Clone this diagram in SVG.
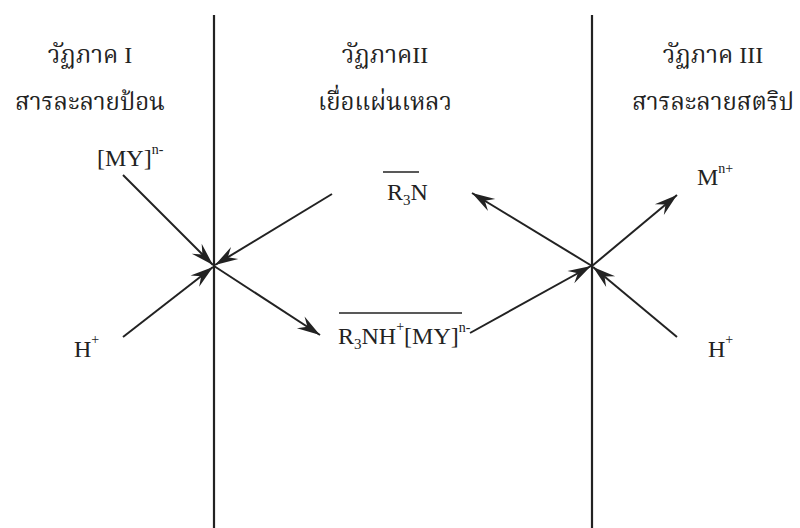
<svg xmlns="http://www.w3.org/2000/svg" width="800" height="528" viewBox="0 0 800 528">
<style>
  .th { font-family: "Liberation Serif", "Noto Serif Thai", "Noto Sans Thai", "Noto Sans", serif; font-size: 24px; fill: #222; text-anchor: middle; }
  .lb { font-family: "Liberation Serif", serif; font-size: 24px; fill: #222; }
  .sup { font-size: 14px; }
  .sub { font-size: 15px; }
  .wall { stroke: #222; stroke-width: 2.2; }
  .arr { stroke: #222; stroke-width: 2; fill: none; marker-end: url(#ah); }
  .bar { stroke: #222; stroke-width: 1.6; }
</style>
<defs>
  <marker id="ah" markerUnits="userSpaceOnUse" viewBox="-24 -9 26 18" refX="0" refY="0" markerWidth="26" markerHeight="18" orient="auto">
    <path d="M0,0 L-23,-7 L-15,0 L-23,7 Z" fill="#222"/>
  </marker>
</defs>
<rect width="800" height="528" fill="#fff"/>
<g id="walls">
  <line class="wall" x1="214" y1="15" x2="214" y2="528"/>
  <line class="wall" x1="592" y1="15" x2="592" y2="528"/>
</g>
<g id="phase1">
  <text class="th" x="90" y="63">วัฏภาค I</text>
  <text class="th" x="90" y="110">สารละลายป้อน</text>
</g>
<g id="phase2">
  <text class="th" x="385" y="63">วัฏภาคII</text>
  <text class="th" x="385" y="110">เยื่อแผ่นเหลว</text>
</g>
<g id="phase3">
  <text class="th" x="713" y="63">วัฏภาค III</text>
  <text class="th" x="713" y="110">สารละลายสตริป</text>
</g>
<g id="MY">
  <text class="lb" x="97" y="166">[MY]<tspan class="sup" dy="-12">n-</tspan></text>
</g>
<g id="H1">
  <text class="lb" x="74" y="357">H<tspan class="sup" dy="-13">+</tspan></text>
</g>
<g id="R3N">
  <line class="bar" x1="383" y1="172" x2="419" y2="172"/>
  <text class="lb" x="387" y="200">R<tspan class="sub" dy="5">3</tspan><tspan dy="-5">N</tspan></text>
</g>
<g id="complex">
  <line class="bar" x1="339" y1="313" x2="462" y2="313"/>
  <text class="lb" x="338" y="344">R<tspan class="sub" dy="5">3</tspan><tspan dy="-5">NH</tspan><tspan class="sup" dy="-13">+</tspan><tspan dy="13">[MY]</tspan><tspan class="sup" dy="-12">n-</tspan></text>
</g>
<g id="M">
  <text class="lb" x="697" y="185">M<tspan class="sup" dy="-12">n+</tspan></text>
</g>
<g id="H3">
  <text class="lb" x="708" y="357">H<tspan class="sup" dy="-13">+</tspan></text>
</g>
<g id="connectors">
  <line class="arr" x1="123" y1="175" x2="213" y2="265"/>
  <line class="arr" x1="332" y1="194" x2="215" y2="265"/>
  <line class="arr" x1="123" y1="337" x2="213" y2="267"/>
  <line class="arr" x1="214" y1="266" x2="320" y2="335"/>
  <line class="arr" x1="470" y1="333" x2="591" y2="266"/>
  <line class="arr" x1="592" y1="266" x2="472" y2="193"/>
  <line class="arr" x1="592" y1="266" x2="677" y2="195"/>
  <line class="arr" x1="677" y1="337" x2="593" y2="267"/>
</g>
</svg>
